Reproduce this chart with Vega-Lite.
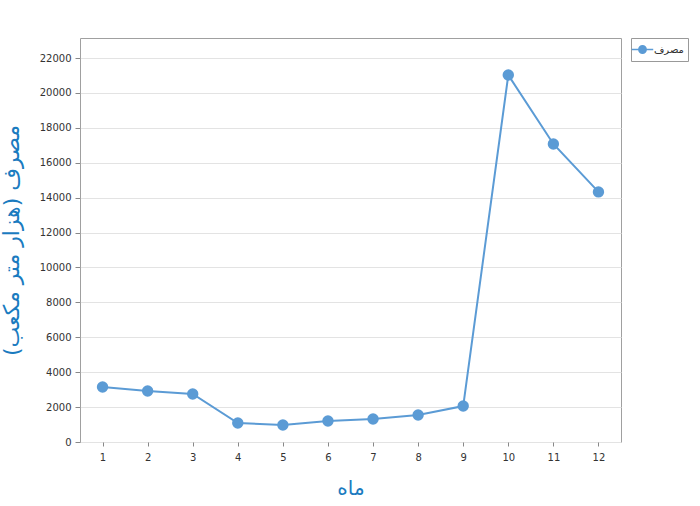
{
  "$schema": "https://vega.github.io/schema/vega-lite/v6.json",
  "autosize": {"type": "none"},
  "padding": {"left": 80, "top": 38, "right": 79, "bottom": 64},
  "width": 541,
  "height": 404,
  "background": "white",
  "data": {"values": [
    {"month": 1, "value": 3150, "series": "مصرف"},
    {"month": 2, "value": 2920, "series": "مصرف"},
    {"month": 3, "value": 2750, "series": "مصرف"},
    {"month": 4, "value": 1090, "series": "مصرف"},
    {"month": 5, "value": 975, "series": "مصرف"},
    {"month": 6, "value": 1200, "series": "مصرف"},
    {"month": 7, "value": 1320, "series": "مصرف"},
    {"month": 8, "value": 1550, "series": "مصرف"},
    {"month": 9, "value": 2060, "series": "مصرف"},
    {"month": 10, "value": 21030, "series": "مصرف"},
    {"month": 11, "value": 17080, "series": "مصرف"},
    {"month": 12, "value": 14330, "series": "مصرف"}
  ]},
  "config": {
    "view": {"stroke": "#a0a0a0", "strokeWidth": 1},
    "font": "DejaVu Sans"
  },
  "encoding": {
    "x": {
      "field": "month", "type": "quantitative",
      "scale": {"domain": [0.5, 12.5], "nice": false, "zero": false},
      "axis": {
        "values": [1,2,3,4,5,6,7,8,9,10,11,12], "format": "d",
        "grid": false, "domain": false,
        "tickColor": "#888", "tickSize": 4,
        "labelFont": "DejaVu Sans", "labelFontSize": 10, "labelColor": "#333", "labelPadding": 6,
        "title": "ماه", "titleFont": "DejaVu Sans", "titleFontSize": 20, "titleFontWeight": "normal",
        "titleColor": "#1a7bbf", "titlePadding": 16
      }
    },
    "y": {
      "field": "value", "type": "quantitative",
      "scale": {"domain": [0, 23150], "nice": false},
      "axis": {
        "values": [0,2000,4000,6000,8000,10000,12000,14000,16000,18000,20000,22000], "format": "d",
        "gridColor": "#e3e3e3", "domain": false,
        "tickColor": "#888", "tickSize": 5,
        "labelFont": "DejaVu Sans", "labelFontSize": 10, "labelColor": "#333", "labelPadding": 4,
        "title": "مصرف (هزار متر مکعب)", "titleFont": "DejaVu Sans", "titleFontSize": 22,
        "titleFontWeight": "normal", "titleColor": "#1a7bbf", "titlePadding": 16
      }
    },
    "color": {
      "field": "series", "type": "nominal",
      "scale": {"range": ["#5b9bd5"]},
      "legend": {
        "orient": "none", "legendX": 551, "legendY": 0,
        "title": null,
        "strokeColor": "#999", "padding": 4,
        "symbolType": "M -1.6 0 L 1.6 0 M 0.55 0 A 0.55 0.55 0 1 1 -0.55 0 A 0.55 0.55 0 1 1 0.55 0",
        "symbolSize": 180, "symbolStrokeWidth": 1.5, "symbolFillColor": "#5b9bd5", "symbolStrokeColor": "#5b9bd5",
        "labelFont": "DejaVu Sans", "labelFontSize": 10, "labelColor": "#333", "labelOffset": 4
      }
    }
  },
  "layer": [
    {"mark": {"type": "line", "strokeWidth": 2}},
    {"mark": {"type": "point", "filled": true, "size": 130, "opacity": 1}}
  ]
}
